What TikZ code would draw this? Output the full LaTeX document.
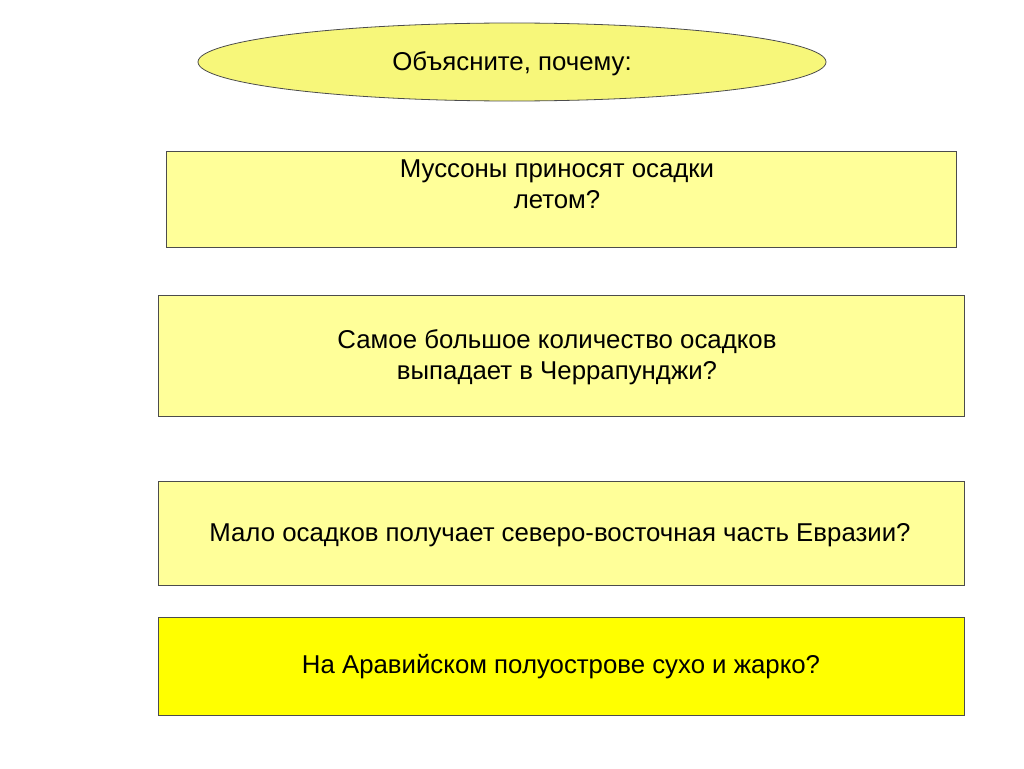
\documentclass[tikz,border=0pt]{standalone}
\usepackage{fontspec}
\setmainfont{Liberation Sans}
\usetikzlibrary{shapes.geometric}
\definecolor{lyel}{HTML}{FFFF99}
\definecolor{oyel}{HTML}{F7F77A}
\definecolor{byel}{HTML}{FFFF00}
\begin{document}
\begin{tikzpicture}[x=1pt,y=-1pt,
  box/.style={draw=black!70,line width=0.8pt,fill=lyel,anchor=north west,inner sep=0pt},
  txt/.style={font=\fontsize{25.8}{31}\selectfont,align=center}]
\useasboundingbox (0,0) rectangle (1024,768);
\node[draw=black!70,line width=0.8pt,fill=oyel,ellipse,minimum width=628pt,minimum height=78pt,inner sep=0pt] (e) at (512,62) {};
\node[txt] (et) at (512,64) {Объясните,\ почему:};
\draw[box] (166,151) rectangle (956,247) node[midway] (b1) {};
\node[txt] (t1) at (557,184) {Муссоны приносят осадки\\летом?};
\draw[box] (158,295) rectangle (964,416) node[midway] (b2) {};
\node[txt] (t2) at (557,357) {Самое большое количество осадков\\ выпадает в Черрапунджи?};
\draw[box] (158,481) rectangle (964,585) node[midway] (b3) {};
\node[txt] (t3) at (560,535) {Мало осадков получает северо-восточная часть Евразии?};
\draw[box,fill=byel] (158,617) rectangle (964,715) node[midway] (b4) {};
\node[txt] (t4) at (561,667) {На Аравийском полуострове сухо и жарко?};
\end{tikzpicture}
\end{document}
